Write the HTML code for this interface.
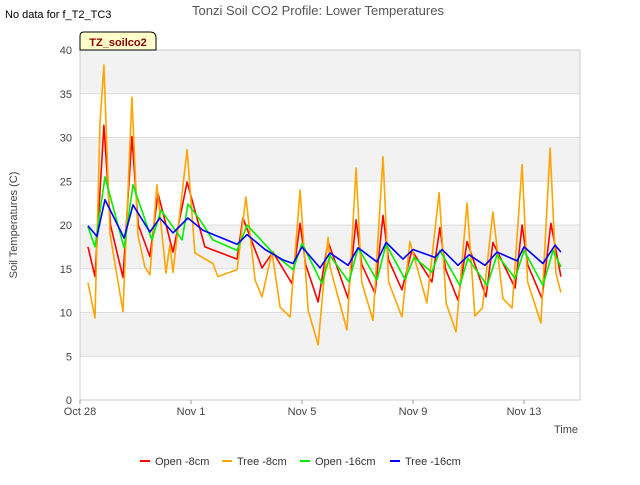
<!DOCTYPE html>
<html><head><meta charset="utf-8"><style>
body{margin:0;background:#fff;font-family:"Liberation Sans",sans-serif}
svg text{font-family:"Liberation Sans",sans-serif}
</style></head><body>
<svg id="chart" width="640" height="480" xmlns="http://www.w3.org/2000/svg">
<text x="5" y="18" font-size="11" fill="#000">No data for f_T2_TC3</text>
<text x="318" y="15" font-size="13" fill="#555" text-anchor="middle">Tonzi Soil CO2 Profile: Lower Temperatures</text>
<g id="bands"></g>
<g id="grid"></g>
<g id="series"></g>
<g id="axes"></g>
<text transform="translate(17,225) rotate(-90)" font-size="11" fill="#444" text-anchor="middle">Soil Temperatures (C)</text>
<text x="578" y="433" font-size="11" fill="#444" text-anchor="end">Time</text>
<g>
<path d="M80,50 L80,36 Q80,32 84,32 L150,32 Q156,32 156,38 L156,50 Z" fill="#ffffcc" stroke="#000" stroke-width="1"/>
<text x="118" y="46" font-size="11" font-weight="bold" fill="#8b0000" text-anchor="middle">TZ_soilco2</text>
</g>
<g id="legend"></g>
</svg>
<script>
const xTickLabels=["Oct 28","Nov 1","Nov 5","Nov 9","Nov 13"];
const xTickDays=[0,4,8,12,16];
const yTicks=[0,5,10,15,20,25,30,35,40];
const seriesNames=["Open -8cm","Tree -8cm","Open -16cm","Tree -16cm"];
const seriesColors=["#ff0000","#ffa500","#00ee00","#0000ff"];
const open8Days=[0.29,0.54,0.86,1.10,1.55,1.87,2.10,2.52,2.81,3.35,3.86,4.50,5.66,5.87,6.56,6.95,7.64,7.93,8.13,8.58,8.94,9.66,9.95,10.15,10.63,10.92,11.12,11.60,11.96,12.68,12.97,13.17,13.62,13.95,14.63,14.88,15.68,15.93,16.13,16.65,16.97,17.33];
const open8Vals=[17.5,14.1,31.4,20.0,14.0,30.1,20.0,16.4,23.6,16.9,24.9,17.5,16.1,20.8,15.1,16.9,13.3,20.2,15.5,11.2,18.1,11.6,20.6,15.5,12.2,21.1,16.0,12.6,17.1,13.5,19.7,15.0,11.4,18.1,11.8,18.0,12.8,20.0,15.5,11.6,20.2,14.1];
const tree8Days=[0.29,0.54,0.72,0.86,1.08,1.55,1.87,2.09,2.34,2.52,2.77,3.10,3.24,3.35,3.86,4.14,4.79,4.97,5.66,5.98,6.31,6.56,6.92,7.21,7.57,7.93,8.22,8.58,8.83,8.94,9.01,9.62,9.95,10.15,10.56,10.92,11.12,11.60,11.89,12.50,12.94,13.20,13.55,13.95,14.23,14.50,14.88,15.24,15.57,15.93,16.13,16.61,16.94,17.15,17.33];
const tree8Vals=[13.4,9.4,31.6,38.3,19.0,10.1,34.6,18.8,15.2,14.3,24.6,14.5,17.8,14.6,28.6,16.8,15.6,14.1,14.9,23.2,13.7,11.8,16.9,10.6,9.5,24.0,10.3,6.3,15.0,18.6,15.2,8.0,26.5,13.5,9.1,27.8,13.5,9.5,18.1,11.1,23.7,11.0,7.8,22.5,9.6,10.5,21.5,11.6,10.5,26.9,13.5,8.8,28.8,14.5,12.3];
const open16Days=[0.29,0.54,0.90,1.59,1.91,2.59,2.92,3.68,3.89,4.32,4.79,5.66,6.02,6.95,7.68,8.00,8.72,9.01,9.69,10.02,10.70,11.03,11.71,12.04,12.68,12.97,13.69,13.98,14.67,15.03,15.68,16.00,16.68,17.05,17.33];
const open16Vals=[19.8,17.5,25.5,17.4,24.6,18.3,21.7,18.3,22.4,20.6,18.3,17.1,20.0,16.8,14.9,17.9,13.3,16.5,13.5,17.4,13.7,17.8,13.8,16.3,14.6,17.1,13.1,16.2,13.1,16.6,13.9,17.1,13.1,17.1,15.2];
const tree16Days=[0.29,0.61,0.90,1.59,1.91,2.52,2.88,3.35,3.89,4.43,5.66,6.02,6.67,7.32,7.68,8.00,8.65,9.01,9.66,10.02,10.70,11.03,11.64,12.00,12.79,13.05,13.62,14.02,14.59,15.03,15.75,16.00,16.68,17.12,17.33];
const tree16Vals=[19.9,18.7,22.9,18.5,22.3,19.2,20.8,19.1,20.8,19.4,17.8,18.9,17.2,16.0,15.6,17.5,15.1,16.8,15.4,17.4,15.8,18.0,16.1,17.2,16.3,17.2,15.4,16.6,15.4,16.9,15.9,17.5,15.6,17.7,16.9];
const allDays=[open8Days,tree8Days,open16Days,tree16Days];
const allVals=[open8Vals,tree8Vals,open16Vals,tree16Vals];

const NS="http://www.w3.org/2000/svg";
const L=80,R=580,T=50,B=400,dayW=27.75;
const xs=d=>L+d*dayW;
const ys=v=>B-(v/40)*(B-T);
function mk(tag,attrs,parent){const e=document.createElementNS(NS,tag);for(const k in attrs)e.setAttribute(k,attrs[k]);parent.appendChild(e);return e;}
const bands=document.getElementById('bands'),grid=document.getElementById('grid'),axes=document.getElementById('axes'),series=document.getElementById('series'),legend=document.getElementById('legend');
mk('rect',{x:L,y:T,width:R-L,height:B-T,fill:'#fff'},bands);
for(let i=0;i<yTicks.length-1;i++){
  if(i%2===1){
    const b=mk('rect',{x:L,y:ys(yTicks[i+1]),width:R-L,height:ys(yTicks[i])-ys(yTicks[i+1]),fill:'#f2f2f2'},bands);
    
    
  }
}
yTicks.forEach(v=>{
  const g=mk('line',{x1:L,x2:R,y1:ys(v),y2:ys(v),stroke:'#dcdcdc','stroke-width':1},grid);
  
  
  const t=mk('text',{x:L-8,y:ys(v)+4,'font-size':11,fill:'#444','text-anchor':'end'},axes);
  t.textContent=v;
  
  
});
mk('rect',{x:L,y:T,width:R-L,height:B-T,fill:'none',stroke:'#ccc'},axes);
xTickDays.forEach((d,i)=>{
  mk('line',{x1:xs(d),x2:xs(d),y1:B,y2:B+4,stroke:'#999'},axes);
  const t=mk('text',{x:xs(d),y:B+15,'font-size':11,fill:'#444','text-anchor':'middle'},axes);
  t.textContent=xTickLabels[i];
  
  
});
allDays.forEach((days,si)=>{
  const pts=days.map((d,i)=>xs(d).toFixed(1)+','+ys(allVals[si][i]).toFixed(1)).join(' ');
  const p=mk('polyline',{points:pts,fill:'none',stroke:seriesColors[si],'stroke-width':1.6,'stroke-linejoin':'round'},series);
  
  
});
const legX=[140,222,300,390];
seriesNames.forEach((n,i)=>{
  const g=mk('g',{},legend);
  
  
  mk('line',{x1:legX[i],x2:legX[i]+10,y1:461,y2:461,stroke:seriesColors[i],'stroke-width':2},g);
  const t=mk('text',{x:legX[i]+15,y:465,'font-size':11,fill:'#333'},g);
  t.textContent=n;
});
</script>
</body></html>
